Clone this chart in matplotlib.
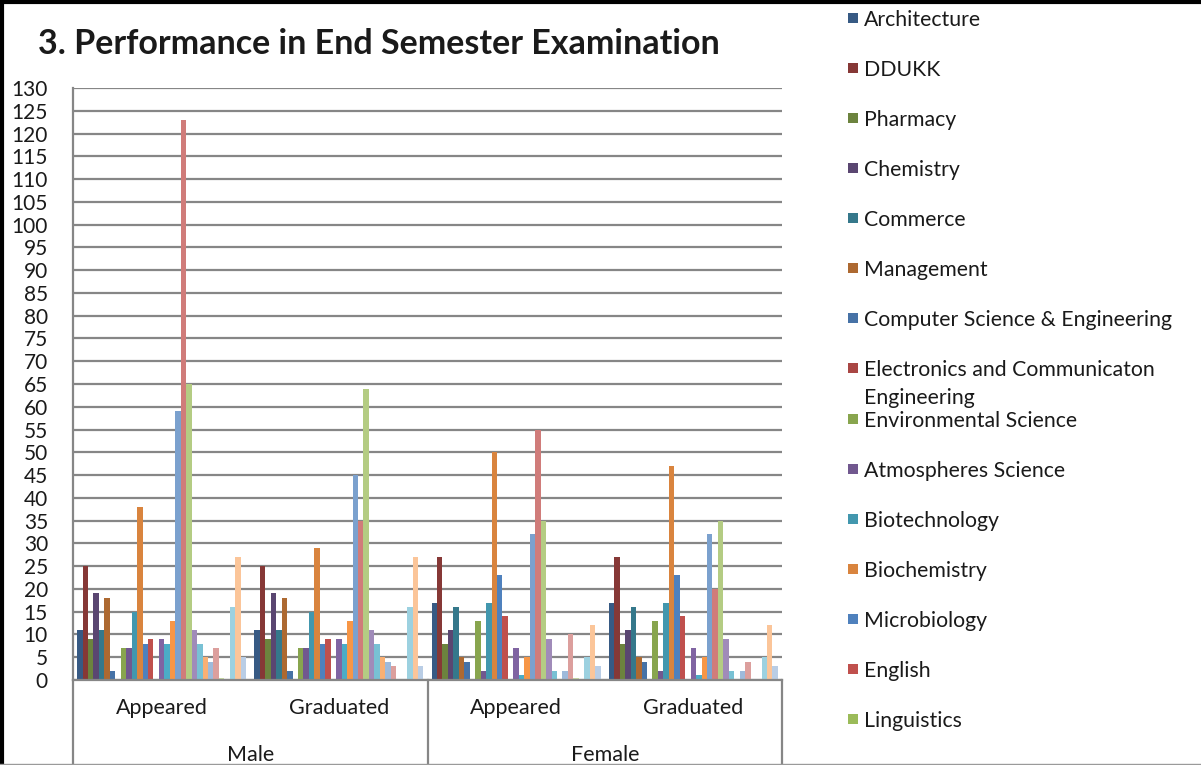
import numpy as np
import matplotlib.pyplot as plt
from matplotlib.colors import to_rgb
from matplotlib.patches import Rectangle
from matplotlib.lines import Line2D
from matplotlib.transforms import blended_transform_factory

plt.rcParams['font.family'] = ['Lato', 'DejaVu Sans']

groups = ['Appeared', 'Graduated', 'Appeared', 'Graduated']
genders = ['Male', 'Female']

# only the first 15 departments made it into the legend
departments = ['Architecture', 'DDUKK', 'Pharmacy', 'Chemistry', 'Commerce',
               'Management', 'Computer Science & Engineering',
               'Electronics and Communicaton\nEngineering', 'Environmental Science',
               'Atmospheres Science', 'Biotechnology', 'Biochemistry',
               'Microbiology', 'English', 'Linguistics']

# 31 departments per group, in series order
male_appeared = [11, 25, 9, 19, 11, 18, 2, 0, 7, 7, 15, 38, 8, 9, 0, 9, 8, 13,
                 59, 123, 65, 11, 8, 5, 4, 7, 0.5, 0, 16, 27, 5]
male_graduated = [11, 25, 9, 19, 11, 18, 2, 0, 7, 7, 15, 29, 8, 9, 0, 9, 8, 13,
                  45, 35, 64, 11, 8, 5, 4, 3, 0, 0, 16, 27, 3]
female_appeared = [17, 27, 8, 11, 16, 5, 4, 0, 13, 2, 17, 50, 23, 14, 0, 7, 1, 5,
                   32, 55, 35, 9, 2, 0, 2, 10, 0.5, 0, 5, 12, 3]
female_graduated = [17, 27, 8, 11, 16, 5, 4, 0, 13, 2, 17, 47, 23, 14, 0, 7, 1, 5,
                    32, 20, 35, 9, 2, 0, 2, 4, 0, 0, 5, 12, 3]

# excel 2007 style palette: 6 accents, darker then lighter per round
base = ['#4F81BD', '#C0504D', '#9BBB59', '#8064A2', '#4BACC6', '#F79646']
shades = [-0.3, -0.12, 0, 0.25, 0.45, 0.6]

def excel_color(k):
    c = np.array(to_rgb(base[k % 6]))
    s = shades[k // 6]
    if s < 0:
        return c * (1 + s)
    return c + (1 - c) * s

W, H = 1201, 765
txt = '#1A1A1A'
fig = plt.figure(figsize=(W / 100, H / 100), dpi=100)
ax = fig.add_axes([73 / W, (H - 680) / H, (782 - 73) / W, (680 - 88) / H])

values = np.array([male_appeared, male_graduated, female_appeared, female_graduated])
n = values.shape[1]
slot = 1 / (n + 1.5)
x0 = np.arange(len(groups))
for k in range(n):
    ax.bar(x0 + (0.75 + k + 0.5) * slot, values[:, k], width=slot,
           color=excel_color(k), linewidth=0, zorder=2)

ax.set_xlim(0, 4)
ax.set_ylim(0, 130)
ax.set_yticks(np.arange(0, 131, 5))
ax.yaxis.grid(True, color='#868686', linewidth=1.6)
ax.set_axisbelow(True)
ax.tick_params(axis='y', length=0, pad=18, labelsize=15, labelcolor=txt)
ax.set_xticks(x0 + 0.5, groups)
ax.tick_params(axis='x', length=0, pad=13, labelsize=15.5, labelcolor=txt)
for s in ['top', 'right']:
    ax.spines[s].set_visible(False)
for s in ['left', 'bottom']:
    ax.spines[s].set_color('#868686')
    ax.spines[s].set_linewidth(1.6)

# second level of the category axis
low = -85 / 592
for xv in [0, 2, 4]:
    ax.axvline(xv, ymin=low, ymax=0, color='#868686', lw=1.6, clip_on=False)
tr = blended_transform_factory(ax.transData, ax.transAxes)
for i, g in enumerate(genders):
    ax.text(2 * i + 1, -75 / 592, g, transform=tr, ha='center', va='center',
            fontsize=15.5, color=txt)

fig.text(38 / W, 1 - 44 / H, '3. Performance in End Semester Examination',
         fontsize=24.5, fontweight='bold', va='center', ha='left', color=txt)

# legend, drawn by hand so the wrapped entry overlaps like the original
for i, name in enumerate(departments):
    y = 18 + 50.07 * i
    fig.add_artist(Rectangle((848 / W, 1 - (y + 5) / H), 10 / W, 10 / H,
                             transform=fig.transFigure, color=excel_color(i), lw=0))
    fig.text(864 / W, 1 - (y - 8) / H, name, fontsize=15.3, va='top', ha='left',
             linespacing=1.45, color=txt)

fig.add_artist(Line2D([0, 1], [1 - 1.5 / H] * 2, color='black', lw=3))
fig.add_artist(Line2D([1.5 / W] * 2, [0, 1], color='black', lw=3))
fig.add_artist(Line2D([0, 1], [1 / H] * 2, color='#9A9A9A', lw=1))

fig.savefig('out.png', dpi=100)
